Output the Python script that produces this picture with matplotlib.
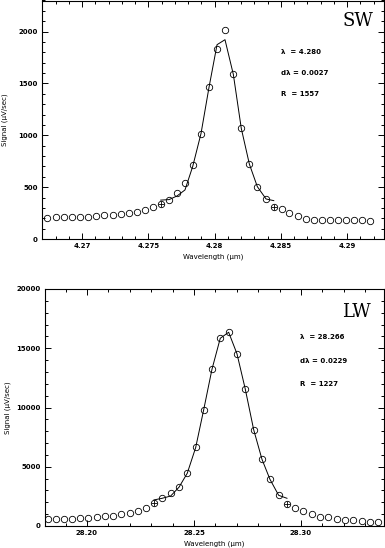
import matplotlib
matplotlib.use("Agg")
import matplotlib.pyplot as plt
from matplotlib.ticker import MultipleLocator, FixedLocator, FixedFormatter

# SW band: measured points
sw_wave = [4.26738, 4.26802, 4.26864, 4.26925, 4.26985, 4.27048, 4.27108, 4.27168,
           4.27232, 4.27292, 4.27352, 4.27413, 4.27473, 4.27534, 4.27594, 4.27657,
           4.27717, 4.27777, 4.27835, 4.27898, 4.27958, 4.28019, 4.28079, 4.28142,
           4.28202, 4.28263, 4.28323, 4.28389, 4.28447, 4.28507, 4.28565, 4.28628,
           4.28691, 4.28751, 4.28811, 4.28872, 4.28932, 4.28992, 4.29053, 4.29113,
           4.29174]
sw_signal = [206, 210, 210, 210, 213, 215, 222, 229, 235, 242, 251, 264, 280, 306,
             335, 377, 441, 538, 715, 1017, 1465, 1833, 2016, 1587, 1066, 722, 505,
             384, 312, 287, 254, 219, 196, 184, 181, 181, 181, 181, 181, 181, 177]
# SW band: fitted profile
sw_fit_wave = [4.27594, 4.27657, 4.27717, 4.27777, 4.27835, 4.27898, 4.27958, 4.28019,
               4.28079, 4.28142, 4.28202, 4.28263, 4.28323, 4.28389, 4.28447]
sw_fit = [375, 380, 415, 473, 698, 1017, 1460, 1874, 1922, 1587, 1066, 722, 505,
          386, 370]

# LW band: measured points
lw_wave = [28.18164, 28.18537, 28.18925, 28.19299, 28.19673, 28.20047, 28.20453,
           28.20827, 28.21215, 28.21603, 28.21995, 28.22369, 28.22743, 28.23131,
           28.23519, 28.23911, 28.24299, 28.24687, 28.25079, 28.25453, 28.25841,
           28.26229, 28.26621, 28.27009, 28.27397, 28.27790, 28.28178, 28.28551,
           28.28958, 28.29346, 28.29720, 28.30107, 28.30500, 28.30888, 28.31276,
           28.31668, 28.32056, 28.32444, 28.32836, 28.33224, 28.33612]
lw_signal = [591, 616, 616, 616, 650, 700, 760, 819, 869, 987, 1122, 1266, 1494,
             1916, 2388, 2810, 3317, 4448, 6642, 9790, 13224, 15840, 16346, 14540,
             11561, 8127, 5629, 3941, 2591, 1857, 1519, 1266, 987, 785, 734, 591,
             532, 506, 422, 363, 363]
# LW band: fitted profile
lw_fit_wave = [28.23131, 28.23519, 28.23911, 28.24299, 28.24687, 28.25079, 28.25453,
               28.25841, 28.26229, 28.26621, 28.27009, 28.27397, 28.27790, 28.28178,
               28.28551, 28.28958, 28.29346]
lw_fit = [2200, 2340, 2530, 3270, 4450, 6610, 9790, 13220, 15840, 16350, 14540,
          11560, 8130, 5630, 3940, 2590, 2340]

fs = 5
plt.rcParams['font.family'] = ['DejaVu Sans']
plt.rcParams['font.weight'] = 'bold'

fig = plt.figure(figsize=(3.85, 5.48), dpi=100)
ax1 = fig.add_axes([42/385, 1 - 239/548, 342/385, 238.5/548])
ax2 = fig.add_axes([45/385, 1 - 526/548, 339/385, 237/548])


def draw(ax, wave, sig, fwave, fsig, xlim, ylim, xmaj, xmin, ymaj, ymin, xticklabels,
         band, txt, tx, ty, bx, by):
    ax.plot(wave, sig, 'o', mfc='none', mec='black', ms=4.6, mew=0.6)
    ax.plot(fwave, fsig, '-', color='black', lw=0.7)
    i0 = wave.index(fwave[0])
    i1 = wave.index(fwave[-1])
    ax.plot([wave[i0], wave[i1]], [sig[i0], sig[i1]], '+', color='black',
            ms=4, mew=0.6)
    ax.set_xlim(xlim)
    ax.set_ylim(ylim)
    ax.xaxis.set_major_locator(FixedLocator(xmaj))
    ax.xaxis.set_major_formatter(FixedFormatter(xticklabels))
    ax.xaxis.set_minor_locator(MultipleLocator(xmin))
    ax.yaxis.set_major_locator(MultipleLocator(ymaj))
    ax.yaxis.set_minor_locator(MultipleLocator(ymin))
    ax.tick_params(which='both', direction='in', top=True, right=True,
                   width=0.7, labelsize=fs, pad=3)
    ax.tick_params(which='major', length=4)
    ax.tick_params(which='minor', length=2.2)
    for s in ax.spines.values():
        s.set_linewidth(0.8)
    ax.set_xlabel('Wavelength (\u03bcm)', fontsize=fs, labelpad=3)
    ax.set_ylabel('Signal (\u03bcV/sec)', fontsize=fs, labelpad=4)
    ax.text(bx, by, band, transform=ax.transAxes, fontsize=13, ha='center',
            va='center', family='DejaVu Serif', weight='normal')
    for i, t in enumerate(txt):
        ax.text(tx, ty[i], t, transform=ax.transAxes, fontsize=fs, ha='left',
                va='center')


draw(ax1, sw_wave, sw_signal, sw_fit_wave, sw_fit, (4.26698, 4.29279), (0, 2300),
     [4.27, 4.275, 4.28, 4.285, 4.29], 0.001, 500, 100,
     ['4.27', '4.275', '4.28', '4.285', '4.29'], 'SW',
     ['\u03bb  = 4.280', 'd\u03bb = 0.0027', 'R  = 1557'], 0.70,
     [0.782, 0.695, 0.607], 0.924, 0.916)

draw(ax2, lw_wave, lw_signal, lw_fit_wave, lw_fit, (28.1804, 28.3388), (0, 20000),
     [28.20, 28.25, 28.30], 0.01, 5000, 1000,
     ['28.20', '28.25', '28.30'], 'LW',
     ['\u03bb  = 28.266', 'd\u03bb = 0.0229', 'R  = 1227'], 0.752,
     [0.797, 0.696, 0.599], 0.920, 0.903)

ax1.yaxis.set_label_coords(-0.1, 0.5)
ax2.yaxis.set_label_coords(-0.1, 0.5)

fig.savefig('out.png', dpi=100)
